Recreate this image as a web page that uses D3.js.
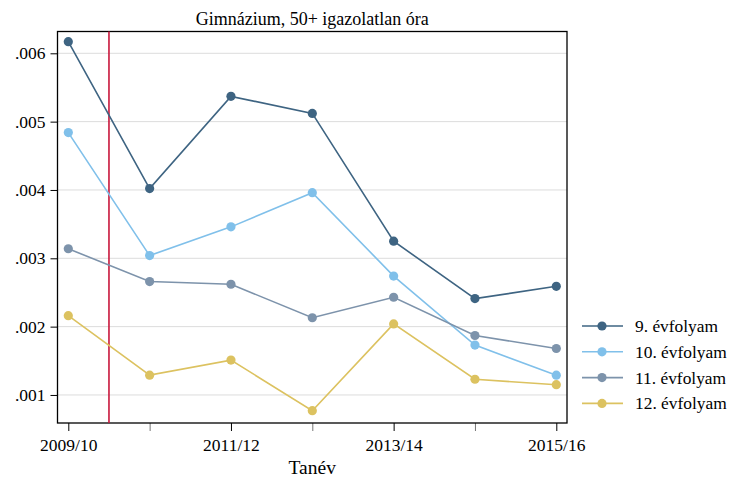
<!DOCTYPE html>
<html>
<head>
<meta charset="utf-8">
<script src="https://cdn.jsdelivr.net/npm/d3@7"></script>
<style>
  body { margin: 0; background: #fff; }
  svg text { font-family: "Liberation Serif", "Times New Roman", Times, "DejaVu Serif", serif; }
</style>
</head>
<body>
<div id="chart"></div>
<script>
// school years (x categories)
const years = ['2009/10', '2010/11', '2011/12', '2012/13', '2013/14', '2014/15', '2015/16'];
const labeledYears = ['2009/10', '2011/12', '2013/14', '2015/16'];
const yTicks = [0.001, 0.002, 0.003, 0.004, 0.005, 0.006];

// share of students with 50+ unexcused hours, by grade
const grade9 = [0.00617, 0.00402, 0.00537, 0.00512, 0.00325, 0.00241, 0.00259];
const grade10 = [0.00484, 0.00304, 0.00346, 0.00396, 0.00274, 0.00173, 0.00129];
const grade11 = [0.00314, 0.00266, 0.00262, 0.00213, 0.00243, 0.00187, 0.00168];
const grade12 = [0.00216, 0.00129, 0.00151, 0.00077, 0.00204, 0.00123, 0.00115];

const seriesNames = ['9. évfolyam', '10. évfolyam', '11. évfolyam', '12. évfolyam'];
const seriesColors = ['#3e6482', '#80c0ea', '#7d93ab', '#dcc260'];
const allSeries = [grade9, grade10, grade11, grade12];

const width = 734, height = 480;
const plot = { left: 57.5, top: 31.5, right: 567, bottom: 423 };
const fontStack = '"Liberation Serif", "Times New Roman", Times, "DejaVu Serif", serif';

const svg = d3.select('#chart')
  .append('svg')
  .attr('width', width)
  .attr('height', height)
  .attr('font-family', fontStack);

const xScale = d3.scalePoint().domain(years).range([68.3, 556.3]);
const yScale = d3.scaleLinear().domain([0, 0.006]).range([463.3, 53.3]);

// gridlines
svg.append('g')
  .selectAll('line')
  .data(yTicks)
  .enter()
  .append('line')
  .attr('x1', plot.left)
  .attr('x2', plot.right)
  .attr('y1', d => yScale(d))
  .attr('y2', d => yScale(d))
  .attr('stroke', '#dcdcdc')
  .attr('stroke-width', 1);

// y axis
const yAxis = svg.append('g')
  .attr('transform', `translate(${plot.left}, 0)`)
  .call(d3.axisLeft(yScale).tickValues(yTicks).tickSize(7).tickPadding(5)
    .tickFormat(d => d3.format('.3f')(d).replace(/^0/, '')));
yAxis.attr('font-family', fontStack);
yAxis.select('.domain').remove();
yAxis.selectAll('text').attr('font-size', '17.5px').attr('fill', '#000');
yAxis.selectAll('line').attr('stroke', '#000');

// x axis
const xAxis = svg.append('g')
  .attr('transform', `translate(0, ${plot.bottom})`)
  .call(d3.axisBottom(xScale).tickSize(8).tickPadding(8)
    .tickFormat(d => labeledYears.includes(d) ? d : ''));
xAxis.attr('font-family', fontStack);
xAxis.select('.domain').remove();
xAxis.selectAll('text').attr('font-size', '17.5px').attr('fill', '#000');
xAxis.selectAll('.tick line')
  .attr('stroke', d => labeledYears.includes(d) ? '#000' : '#777');

// frame
svg.append('rect')
  .attr('x', plot.left)
  .attr('y', plot.top)
  .attr('width', plot.right - plot.left)
  .attr('height', plot.bottom - plot.top)
  .attr('fill', 'none')
  .attr('stroke', '#000')
  .attr('stroke-width', 1.3);

// reform marker line between the first two years
const redX = (xScale(years[0]) + xScale(years[1])) / 2;
svg.append('line')
  .attr('x1', redX)
  .attr('x2', redX)
  .attr('y1', plot.top)
  .attr('y2', plot.bottom)
  .attr('stroke', '#c8173c')
  .attr('stroke-width', 1.6);

// series lines + markers
const line = d3.line()
  .x((d, i) => xScale(years[i]))
  .y(d => yScale(d));

allSeries.forEach((values, k) => {
  svg.append('path')
    .datum(values)
    .attr('fill', 'none')
    .attr('stroke', seriesColors[k])
    .attr('stroke-width', 1.6)
    .attr('d', line);

  svg.append('g')
    .selectAll('circle')
    .data(values)
    .enter()
    .append('circle')
    .attr('cx', (d, i) => xScale(years[i]))
    .attr('cy', d => yScale(d))
    .attr('r', 4.6)
    .attr('fill', seriesColors[k]);
});

// title
svg.append('text')
  .attr('x', (plot.left + plot.right) / 2)
  .attr('y', 24.5)
  .attr('text-anchor', 'middle')
  .attr('font-size', '18px')
  .text('Gimnázium, 50+ igazolatlan óra');

// x axis label
svg.append('text')
  .attr('x', (plot.left + plot.right) / 2)
  .attr('y', 474)
  .attr('text-anchor', 'middle')
  .attr('font-size', '19.5px')
  .text('Tanév');

// legend
const legend = svg.append('g')
  .selectAll('g')
  .data(seriesNames)
  .enter()
  .append('g')
  .attr('transform', (d, i) => `translate(582, ${326 + i * 25.8})`);

legend.append('line')
  .attr('x1', 0)
  .attr('x2', 41)
  .attr('stroke', (d, i) => seriesColors[i])
  .attr('stroke-width', 1.6);

legend.append('circle')
  .attr('cx', 20)
  .attr('r', 4.6)
  .attr('fill', (d, i) => seriesColors[i]);

legend.append('text')
  .attr('x', 53)
  .attr('y', 6)
  .attr('font-size', '17.4px')
  .text(d => d);
</script>
</body>
</html>
